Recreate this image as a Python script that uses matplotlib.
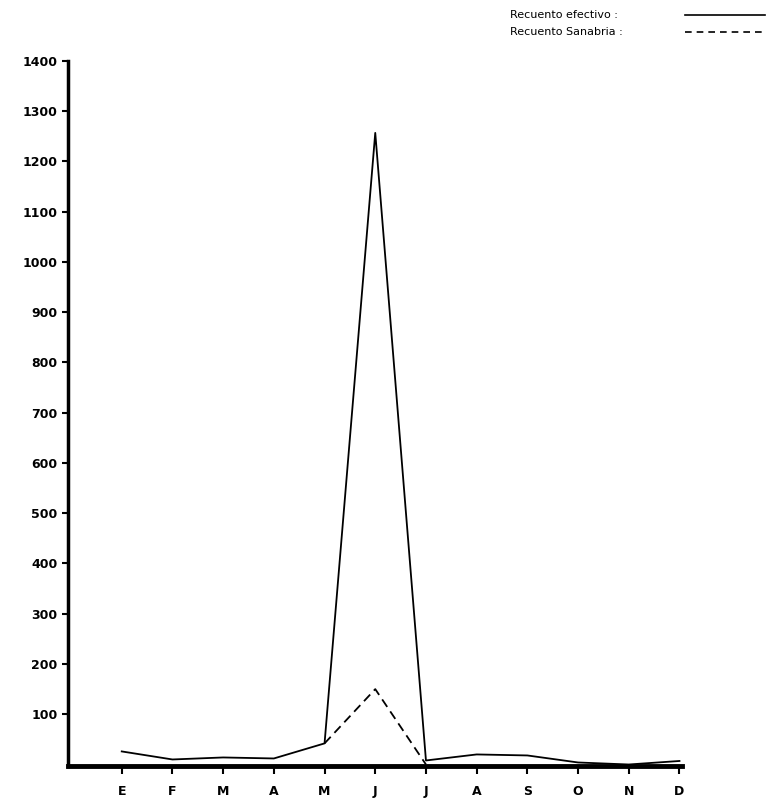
import matplotlib.pyplot as plt
from matplotlib.lines import Line2D

months = ["E", "F", "M", "A", "M", "J", "J", "A", "S", "O", "N", "D"]
efectivo = [26, 10, 14, 12, 42, 1257, 8, 20, 18, 4, 0, 7]
sanabria_idx = [4, 5, 6]
sanabria = [42, 150, 0]

fig = plt.figure(figsize=(7.78, 7.99), dpi=100)
ax = fig.add_axes([68/778, 1 - 766/799, (682-68)/778, (766-61)/799])

x = list(range(len(months)))
ax.plot(x, efectivo, color="black", lw=1.3)
ax.plot(sanabria_idx, sanabria, color="black", lw=1.3, ls=(0, (5, 3)))

ax.set_xlim(-1.06, 11.05)
ax.set_ylim(-3, 1400)
ax.set_xticks(x)
ax.set_xticklabels(months, fontweight="bold", fontsize=9)
ax.set_yticks(range(100, 1401, 100))
ax.set_yticklabels([str(v) for v in range(100, 1401, 100)], fontweight="bold", fontsize=9)
ax.tick_params(axis="x", length=6, width=1.5, direction="out", pad=8)
ax.tick_params(axis="y", length=4, width=1.5, direction="out")
ax.spines["top"].set_visible(False)
ax.spines["right"].set_visible(False)
ax.spines["bottom"].set_linewidth(3.5)
ax.spines["left"].set_linewidth(2.5)

fig.text(510/778, 1 - 15/799, "Recuento efectivo :", fontsize=8, va="center")
fig.text(510/778, 1 - 32/799, "Recuento Sanabria :", fontsize=8, va="center")
fig.add_artist(Line2D([685/778, 765/778], [1 - 15/799, 1 - 15/799], color="black", lw=1.2))
fig.add_artist(Line2D([685/778, 765/778], [1 - 32/799, 1 - 32/799], color="black", lw=1.2, ls=(0, (4, 3))))

fig.savefig("out.png", dpi=100)
